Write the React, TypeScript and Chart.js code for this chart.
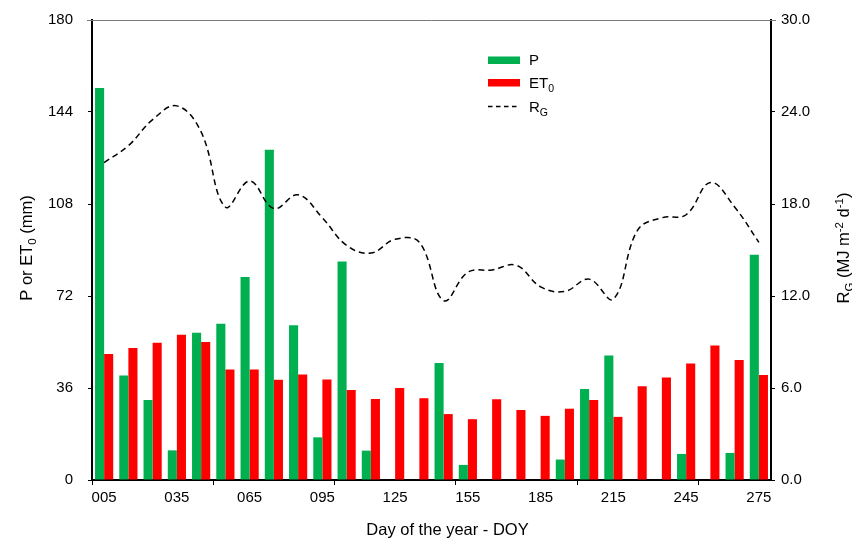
import React, { useEffect, useRef } from 'react';
import { Chart, registerables } from 'chart.js';

Chart.register(...registerables);

const days = ['005', '015', '025', '035', '045', '055', '065', '075', '085', '095', '105', '115', '125', '135', '145', '155', '165', '175', '185', '195', '205', '215', '225', '235', '245', '255', '265', '275'];
const precipitation = [153.4, 40.9, 31.3, 11.6, 57.6, 61.1, 79.4, 129.2, 60.6, 16.7, 85.5, 11.5, 0, 0, 45.8, 5.9, 0, 0, 0, 8.0, 35.6, 48.7, 0, 0, 10.2, 0, 10.6, 88.1];
const et0 = [49.3, 51.7, 53.7, 56.8, 54.0, 43.2, 43.2, 39.2, 41.3, 39.3, 35.2, 31.7, 36.0, 32.0, 25.8, 23.8, 31.6, 27.4, 25.1, 27.9, 31.3, 24.7, 36.7, 40.1, 45.6, 52.6, 47.0, 41.1];
const rg = [20.7, 21.8, 23.5, 24.4, 22.7, 17.8, 19.5, 17.7, 18.6, 17.1, 15.3, 14.8, 15.7, 15.5, 11.7, 13.55, 13.7, 14.0, 12.6, 12.3, 13.1, 11.8, 16.3, 17.1, 17.3, 19.4, 17.8, 15.5];

const FONT = "'Liberation Sans', Arial, Helvetica, sans-serif";
const GREEN = '#00b050';
const RED = '#ff0000';
const TOP_GRAY = '#7a7a7a';

type Part = { t: string; s: number; dy?: number };

function partsWidth(ctx: CanvasRenderingContext2D, parts: Part[]) {
  let w = 0;
  for (const p of parts) {
    ctx.font = `${p.s}px ${FONT}`;
    w += ctx.measureText(p.t).width;
  }
  return w;
}

function drawParts(ctx: CanvasRenderingContext2D, parts: Part[], x: number, y: number) {
  let cx = x;
  ctx.textBaseline = 'alphabetic';
  ctx.textAlign = 'left';
  for (const p of parts) {
    ctx.font = `${p.s}px ${FONT}`;
    ctx.fillText(p.t, cx, y + (p.dy || 0));
    cx += ctx.measureText(p.t).width;
  }
}

const decorPlugin = {
  id: 'decor',
  afterDraw(chart: any) {
    const ctx: CanvasRenderingContext2D = chart.ctx;
    const area = chart.chartArea;
    ctx.save();

    ctx.strokeStyle = TOP_GRAY;
    ctx.lineWidth = 1;
    ctx.beginPath();
    const ty = Math.round(area.top) + 0.5;
    ctx.moveTo(area.left - 5, ty);
    ctx.lineTo(area.right + 5, ty);
    ctx.stroke();

    ctx.fillStyle = '#000';

    const leftParts: Part[] = [
      { t: 'P or ET', s: 16.5 },
      { t: '0', s: 11.5, dy: 4 },
      { t: ' (mm)', s: 16.5 },
    ];
    ctx.save();
    ctx.translate(31.5, 248);
    ctx.rotate(-Math.PI / 2);
    drawParts(ctx, leftParts, -partsWidth(ctx, leftParts) / 2, 0);
    ctx.restore();

    const rightParts: Part[] = [
      { t: 'R', s: 16.5 },
      { t: 'G', s: 11.5, dy: 4 },
      { t: ' (MJ m', s: 16.5 },
      { t: '-2', s: 11.5, dy: -6 },
      { t: ' d', s: 16.5 },
      { t: '-1', s: 11.5, dy: -6 },
      { t: ')', s: 16.5 },
    ];
    ctx.save();
    ctx.translate(849, 248);
    ctx.rotate(-Math.PI / 2);
    drawParts(ctx, rightParts, -partsWidth(ctx, rightParts) / 2, 0);
    ctx.restore();

    const bottomParts: Part[] = [{ t: 'Day of the year - DOY', s: 16.5 }];
    drawParts(ctx, bottomParts, 447.5 - partsWidth(ctx, bottomParts) / 2, 535);

    ctx.fillStyle = GREEN;
    ctx.fillRect(488, 56.5, 32, 7.5);
    ctx.fillStyle = RED;
    ctx.fillRect(488, 79, 32, 7.5);
    ctx.strokeStyle = '#000';
    ctx.lineWidth = 1.5;
    ctx.setLineDash([4.5, 3.5]);
    ctx.beginPath();
    ctx.moveTo(488, 106.5);
    ctx.lineTo(520, 106.5);
    ctx.stroke();
    ctx.setLineDash([]);
    ctx.fillStyle = '#000';
    drawParts(ctx, [{ t: 'P', s: 15 }], 529, 65);
    drawParts(ctx, [{ t: 'ET', s: 15 }, { t: '0', s: 10.5, dy: 4 }], 529, 88);
    drawParts(ctx, [{ t: 'R', s: 15 }, { t: 'G', s: 10.5, dy: 4 }], 529, 111.5);

    ctx.restore();
  },
};

export default function App() {
  const ref = useRef<HTMLCanvasElement | null>(null);

  useEffect(() => {
    if (!ref.current) return;
    const tickFont = { family: FONT, size: 15 };
    const chart = new Chart(ref.current, {
      type: 'bar',
      data: {
        labels: days,
        datasets: [
          {
            type: 'line',
            label: 'RG',
            data: rg,
            yAxisID: 'y1',
            borderColor: '#000',
            borderWidth: 1.5,
            borderDash: [6, 4],
            pointRadius: 0,
            tension: 0.4,
            fill: false,
            order: 0,
          } as any,
          {
            label: 'P',
            data: precipitation,
            yAxisID: 'y',
            backgroundColor: GREEN,
            categoryPercentage: 0.75,
            barPercentage: 1,
            order: 1,
          },
          {
            label: 'ET0',
            data: et0,
            yAxisID: 'y',
            backgroundColor: RED,
            categoryPercentage: 0.75,
            barPercentage: 1,
            order: 1,
          },
        ],
      },
      options: {
        animation: false,
        responsive: false,
        layout: { padding: { top: 20, left: 0, right: 0, bottom: 0 } },
        plugins: { legend: { display: false }, tooltip: { enabled: false } },
        scales: {
          x: {
            type: 'category',
            offset: true,
            grid: {
              offset: true,
              drawOnChartArea: false,
              tickLength: 5,
              color: (c: any) => (c.index % 5 === 0 ? '#000' : 'rgba(0,0,0,0)'),
            },
            border: { color: '#000', width: 2 },
            ticks: {
              autoSkip: false,
              maxRotation: 0,
              minRotation: 0,
              padding: 4,
              color: '#000',
              font: tickFont,
              callback: (_v: any, i: number) => (i % 3 === 0 ? days[i] : ''),
            },
            afterFit: (s: any) => {
              s.height = 60;
              s.paddingLeft = 0;
              s.paddingRight = 0;
            },
          },
          y: {
            position: 'left',
            min: 0,
            max: 180,
            grid: {
              drawOnChartArea: false,
              tickLength: 4,
              color: (c: any) => (c.tick && c.tick.value === 180 ? TOP_GRAY : '#000'),
            },
            border: { color: '#000', width: 2 },
            ticks: { stepSize: 36, padding: 15, color: '#000', font: tickFont },
            afterFit: (s: any) => {
              s.width = 92;
              s.paddingTop = 0;
              s.paddingBottom = 0;
            },
          },
          y1: {
            position: 'right',
            min: 0,
            max: 30,
            grid: {
              drawOnChartArea: false,
              tickLength: 4,
              color: (c: any) => (c.tick && c.tick.value === 30 ? TOP_GRAY : '#000'),
            },
            border: { color: '#000', width: 2 },
            ticks: {
              stepSize: 6,
              padding: 6,
              color: '#000',
              font: tickFont,
              callback: (v: any) => Number(v).toFixed(1),
            },
            afterFit: (s: any) => {
              s.width = 81;
              s.paddingTop = 0;
              s.paddingBottom = 0;
            },
          },
        },
      },
      plugins: [decorPlugin],
    } as any);
    return () => chart.destroy();
  }, []);

  return (
    <div style={{ position: 'absolute', left: 0, top: 0, width: 852, height: 540, background: '#fff' }}>
      <canvas ref={ref} width={852} height={540} style={{ display: 'block', width: 852, height: 540 }} />
    </div>
  );
}
